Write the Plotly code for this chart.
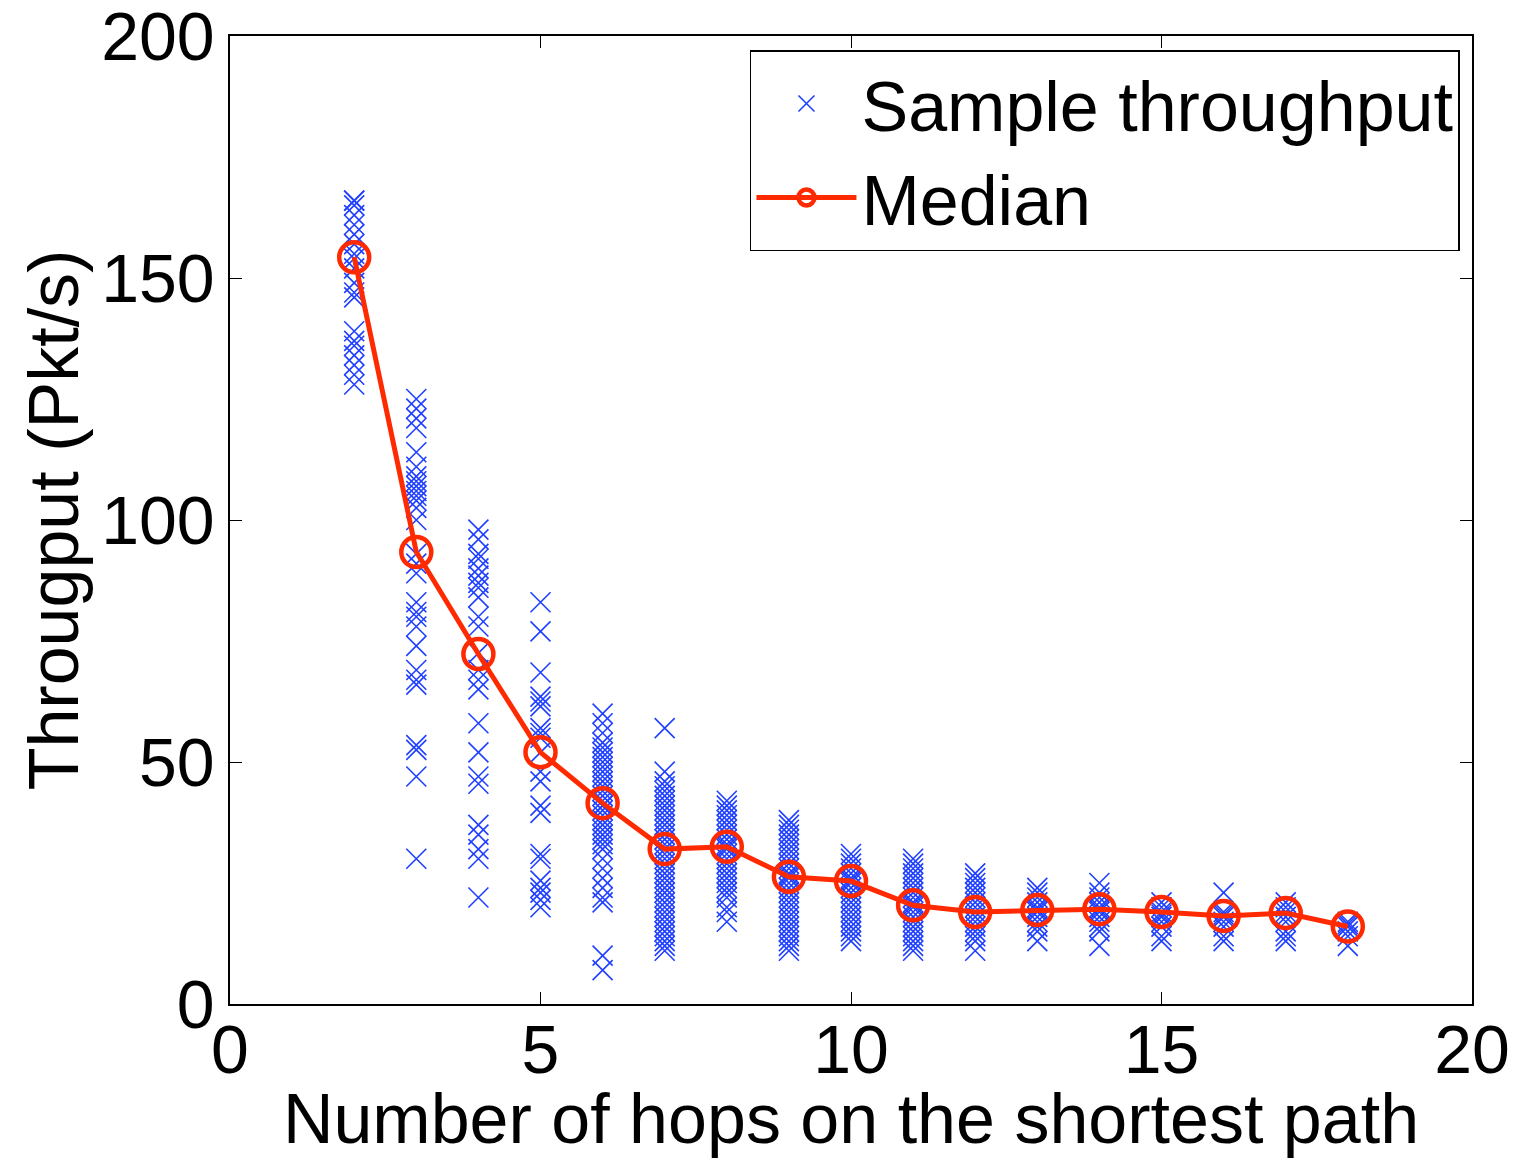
import plotly.graph_objects as go

# Sample throughput per hop count
hop_samples = {
    2: [166, 166, 165, 163, 161, 159, 157, 155, 154, 152, 149, 147, 146, 139, 137, 136, 134, 132, 130, 128],
    3: [125, 123, 121, 119, 114, 111, 109, 108, 107, 106, 105, 104, 102.5, 100, 93, 91, 89, 83, 81, 80, 78, 74, 69, 67, 66, 53.5, 52.5, 47, 30],
    4: [98, 96, 93, 92, 90, 88.5, 87, 86, 84, 80, 78, 72.5, 69, 67, 65, 58, 52, 47, 45.5, 37, 35, 32, 30, 22],
    5: [83, 77, 68.5, 63.5, 62.5, 61.5, 57, 56, 55, 52, 48, 46, 41, 39.5, 31, 30, 25.5, 24, 23, 21.5, 20],
    6: [60, 58, 56, 54, 53, 52, 51, 50, 49, 48, 47, 46, 45, 44, 43, 42, 41, 41, 40, 39, 38, 37, 36, 35, 34, 33, 32, 30, 28, 26, 24, 22, 21, 10, 7],
    7: [57, 48, 46, 45, 44, 43, 42, 41, 40, 39, 38, 37, 36, 35, 34, 33, 32, 31, 30, 29, 28, 27, 26, 25, 24, 23, 22, 21, 20, 19, 18, 17, 16, 15, 14, 13, 12, 11],
    8: [42, 41, 40, 39, 38, 37, 36, 35, 34, 33, 32.5, 32, 31, 30, 29, 28, 27, 26, 25, 24, 23, 22, 20, 19, 17],
    9: [38, 37, 36, 35, 34, 33, 32, 31, 30, 29, 28, 27, 26.5, 26, 25, 24, 23, 22, 21, 20, 19, 18, 17, 16, 15, 14, 13, 12, 11],
    10: [31, 30, 29, 28, 27, 26, 25.5, 25, 24, 23, 22, 21, 20, 19, 18, 17, 16, 15, 14, 13],
    11: [30, 29, 28, 27, 26, 25, 24, 23, 22, 21, 20.5, 20, 19, 18, 17, 16, 15, 14, 13, 12, 11],
    12: [27, 26, 25, 24, 23, 22, 21, 20, 19, 18, 17, 16, 15, 14, 13, 11],
    13: [24, 23, 22, 21, 20, 19.5, 19, 18, 17, 16, 15, 13],
    14: [25, 23, 22, 21, 20, 19.5, 19, 18, 17, 16, 15, 12],
    15: [21, 20, 19, 18.5, 18, 17, 16, 14, 13],
    16: [23, 19, 18.5, 18, 17, 16, 14, 13],
    17: [21, 20, 19, 18, 17, 15, 14, 13],
    18: [17, 16.5, 16, 15, 14, 12],
}

median_hops = [2, 3, 4, 5, 6, 7, 8, 9, 10, 11, 12, 13, 14, 15, 16, 17, 18]
median_vals = [154.3, 93.4, 72.3, 52, 41.5, 32, 32.5, 26.3, 25.4, 20.4, 19, 19.4, 19.6, 19, 18.2, 18.8, 16]

x_ticks = [0, 5, 10, 15, 20]
y_ticks = [0, 50, 100, 150, 200]

sx, sy = [], []
for h, vals in hop_samples.items():
    for v in vals:
        sx.append(h)
        sy.append(v)

FONT = "Liberation Sans, Arial, Helvetica, sans-serif"
FS = 70
TFS = 68

fig = go.Figure()
fig.add_trace(go.Scatter(
    x=sx, y=sy, mode="markers", name="Sample throughput",
    marker=dict(symbol="x-thin-open", size=20, color="#2040ff",
                line=dict(color="#2040ff", width=1.6)),
))
fig.add_trace(go.Scatter(
    x=median_hops, y=median_vals, mode="lines+markers", name="Median",
    line=dict(color="#ff2a00", width=5),
    marker=dict(symbol="circle-open", size=30, color="#ff2a00",
                line=dict(color="#ff2a00", width=4.5)),
))

axis_common = dict(
    showgrid=False, zeroline=False, showline=True, linecolor="black", linewidth=1.5,
    mirror="ticks", ticks="inside", ticklen=12, tickwidth=1.2, tickcolor="black",
    tickfont=dict(family=FONT, size=TFS, color="black"), automargin=False,
    ticklabeloverflow="allow",
)

fig.update_layout(
    width=1520, height=1158,
    margin=dict(l=230, r=48, t=36, b=154),
    paper_bgcolor="white", plot_bgcolor="white",
    font=dict(family=FONT, color="black"),
    showlegend=True,
    legend=dict(
        x=0.9903, y=0.9855, xanchor="right", yanchor="top",
        bordercolor="black", borderwidth=1.5, bgcolor="white",
        font=dict(family=FONT, size=FS, color="black"),
        itemsizing="trace", itemwidth=100, tracegroupgap=0,
    ),
    xaxis=dict(range=[0, 20], tickvals=x_ticks, ticktext=[str(v) for v in x_ticks],
               ticklabelstandoff=-14,
               title=dict(text="Number of hops on the shortest path",
                          font=dict(family=FONT, size=FS, color="black"), standoff=4),
               **axis_common),
    yaxis=dict(range=[0, 200], tickvals=y_ticks, ticktext=[str(v) for v in y_ticks],
               title=dict(text="Througput (Pkt/s)",
                          font=dict(family=FONT, size=FS, color="black"), standoff=0),
               **axis_common),
)

fig.write_html("out.html")
